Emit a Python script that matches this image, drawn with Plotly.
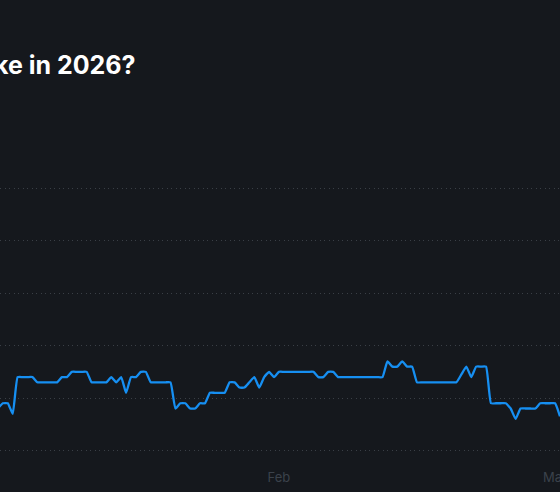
import pandas as pd
import plotly.graph_objects as go

start_time = "2026-01-03 12:00"
step = "12h"
probability = [
    8, 9, 9, 7, 14, 14, 14, 14, 13, 13,
    13, 13, 13, 14, 14, 15, 15, 15, 15, 13,
    13, 13, 13, 14, 13, 14, 11, 14, 14, 15,
    15, 13, 13, 13, 13, 13, 8, 9, 9, 8,
    8, 9, 9, 11, 11, 11, 11, 13, 13, 12,
    12, 13, 14, 12, 14, 15, 14, 15, 15, 15,
    15, 15, 15, 15, 15, 14, 14, 15, 15, 14,
    14, 14, 14, 14, 14, 14, 14, 14, 14, 17,
    16, 16, 17, 16, 16, 13, 13, 13, 13, 13,
    13, 13, 13, 13, 14.5, 16, 14, 16, 16, 16,
    9, 9, 9, 9, 8, 6, 8, 8, 8, 8,
    9, 9, 9, 9, 6.5,
]
y_ticks = [0, 10, 20, 30, 40, 50]
x_tick_dates = ["2026-02-01", "2026-03-01"]
x_tick_labels = ["Feb", "Mar"]
title_text = "ke in 2026?"

times = pd.date_range(start_time, periods=len(probability), freq=step)

BG = "#15181d"
GRID = "#3a3f46"
LINE = "#168ff2"

fig = go.Figure()
fig.add_trace(go.Scatter(
    x=times, y=probability, mode="lines",
    line=dict(color=LINE, width=2.3, shape="spline", smoothing=0.4),
    hoverinfo="skip", showlegend=False,
))

fig.add_annotation(
    text=title_text, xref="paper", yref="paper",
    x=0.247, y=1.455, xanchor="right", yanchor="middle",
    showarrow=False,
    font=dict(family="Inter", size=25, color="#ffffff", weight=700),
)

fig.update_xaxes(
    range=["2026-01-03 17:06", "2026-03-01 12:00"],
    tickvals=x_tick_dates, ticktext=x_tick_labels,
    showgrid=False, zeroline=False, showline=False, automargin=False,
    ticks="outside", ticklen=12, tickcolor=BG,
    ticklabeloverflow="allow",
    tickfont=dict(family="Inter", size=13, color="#3b424b"),
)
fig.update_yaxes(
    range=[-0.5, 50.5], tickvals=y_ticks, showticklabels=False,
    showgrid=True, gridcolor=GRID, gridwidth=1, griddash="1px,3.5px",
    zeroline=False, showline=False, automargin=False,
)

fig.update_layout(
    width=560, height=492,
    margin=dict(l=0, r=0, t=186, b=39, pad=0),
    paper_bgcolor=BG, plot_bgcolor=BG,
)

# drop the browser's default page margin so the figure fills the window
fig.write_html("out.html", config={"displayModeBar": False},
               post_script="document.body.style.margin='0';")
